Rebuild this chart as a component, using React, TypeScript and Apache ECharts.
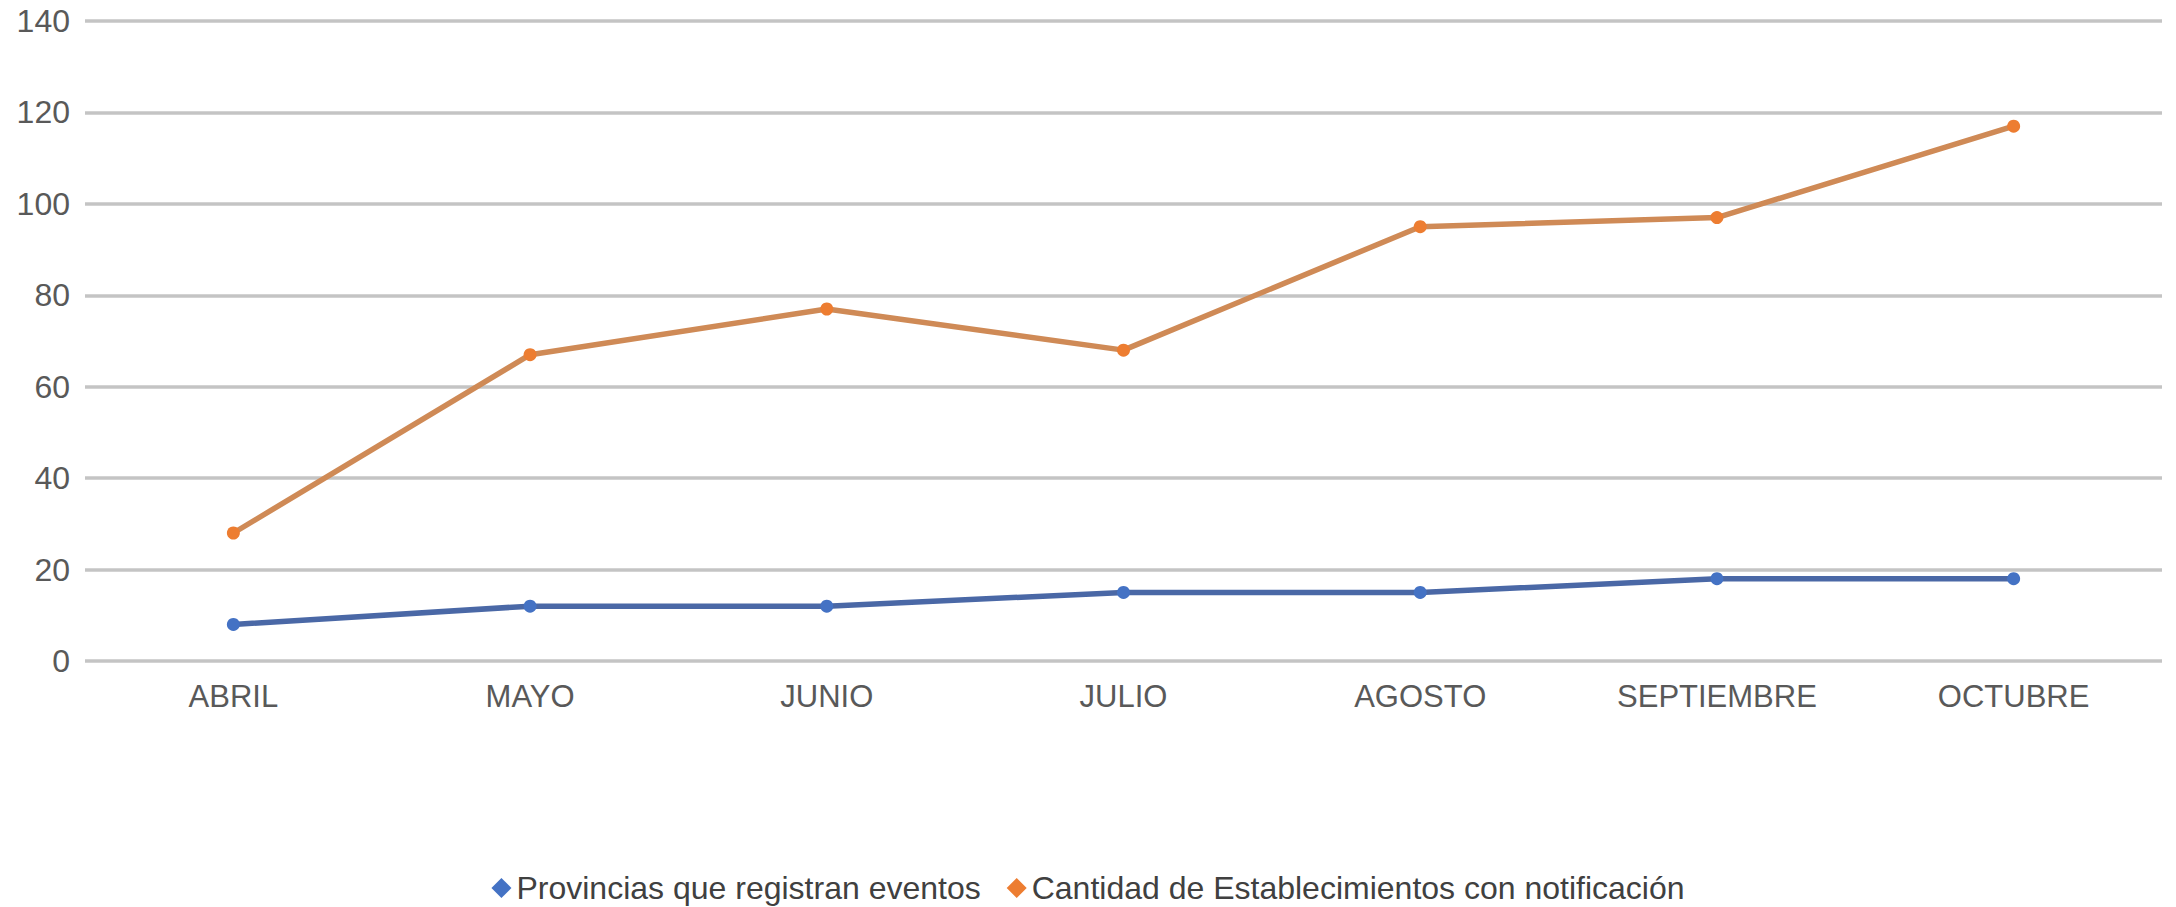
import React, { useEffect, useRef } from "react";
import * as echarts from "echarts";

const categories = ["ABRIL", "MAYO", "JUNIO", "JULIO", "AGOSTO", "SEPTIEMBRE", "OCTUBRE"];
const provincias = [8, 12, 12, 15, 15, 18, 18];
const establecimientos = [28, 67, 77, 68, 95, 97, 117];
const seriesNames = ["Provincias que registran eventos", "Cantidad de Establecimientos con notificación"];

export default function App() {
  const ref = useRef<HTMLDivElement>(null);
  useEffect(() => {
    document.body.style.margin = "0";
    const chart = echarts.init(ref.current!, null, { renderer: "svg" });
    const font = "'Liberation Sans', Arial, sans-serif";
    chart.setOption({
      animation: false,
      backgroundColor: "#ffffff",
      grid: { left: 85, right: 14, top: 21, bottom: 246, containLabel: false },
      legend: {
        data: seriesNames,
        left: "center",
        top: 867,
        icon: "diamond",
        itemWidth: 20,
        itemHeight: 20,
        itemGap: 26,
        textStyle: { fontSize: 32, color: "#404040", fontFamily: font },
      },
      xAxis: {
        type: "category",
        data: categories,
        boundaryGap: true,
        axisLine: { show: false },
        axisTick: { show: false },
        axisLabel: { fontSize: 31, color: "#595959", fontFamily: font, margin: 20 },
      },
      yAxis: {
        type: "value",
        min: 0,
        max: 140,
        interval: 20,
        axisLine: { show: false },
        axisTick: { show: false },
        axisLabel: { fontSize: 32, color: "#595959", fontFamily: font, margin: 15 },
        splitLine: { show: true, lineStyle: { color: "#c4c4c4", width: 3.5 } },
      },
      series: [
        {
          name: seriesNames[0],
          type: "line",
          data: provincias,
          symbol: "circle",
          symbolSize: 13,
          lineStyle: { color: "#4a68a6", width: 5.5 },
          itemStyle: { color: "#4472c4" },
        },
        {
          name: seriesNames[1],
          type: "line",
          data: establecimientos,
          symbol: "circle",
          symbolSize: 13,
          lineStyle: { color: "#cf8a56", width: 5.5 },
          itemStyle: { color: "#ed7d31" },
        },
      ],
    });
    return () => chart.dispose();
  }, []);
  return <div ref={ref} style={{ width: 2176, height: 907 }} />;
}
